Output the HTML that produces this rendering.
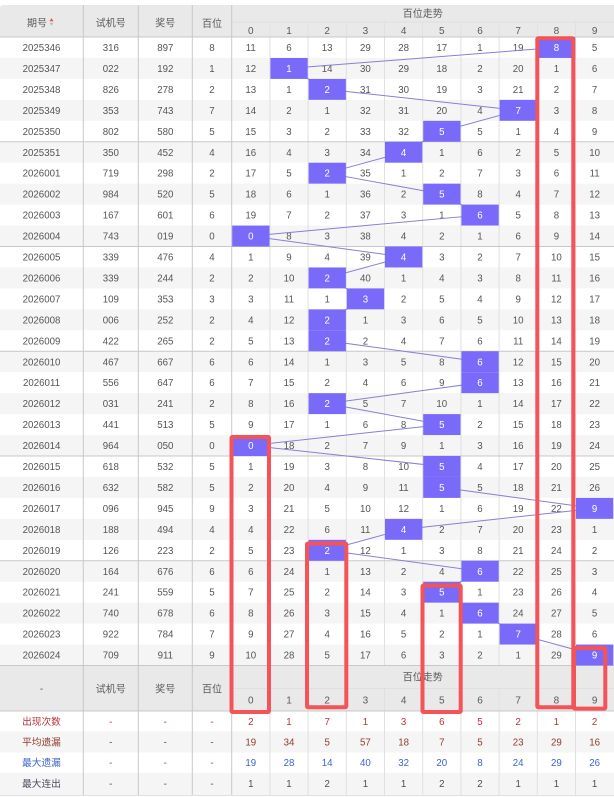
<!DOCTYPE html>
<html><head><meta charset="utf-8"><style>
html,body{margin:0;padding:0;background:#fff;}
svg{display:block;}
text{font-family:"Liberation Sans","Noto Sans CJK SC",sans-serif;font-size:9.7px;fill:#555;text-anchor:middle;}
.h text{font-size:10px;fill:#5a5a5a;}
.w{fill:#fff;}
</style></head><body>
<svg width="614" height="797" viewBox="0 0 614 797" xmlns="http://www.w3.org/2000/svg">
<!-- header bg -->
<path d="M0,8 Q0,5 3,5 L614,5 L614,37 L0,37 Z" fill="#e9e9e9"/>
<rect x="0" y="665.5" width="614" height="45.5" fill="#e9e9e9"/>
<!-- row bgs -->
<g fill="#f5f5f5">
<rect x="0" y="57.95" width="614" height="20.95"/>
<rect x="0" y="99.85" width="614" height="20.95"/>
<rect x="0" y="141.75" width="614" height="20.95"/>
<rect x="0" y="183.65" width="614" height="20.95"/>
<rect x="0" y="225.55" width="614" height="20.95"/>
<rect x="0" y="267.45" width="614" height="20.95"/>
<rect x="0" y="309.35" width="614" height="20.95"/>
<rect x="0" y="351.25" width="614" height="20.95"/>
<rect x="0" y="393.15" width="614" height="20.95"/>
<rect x="0" y="435.05" width="614" height="20.95"/>
<rect x="0" y="476.95" width="614" height="20.95"/>
<rect x="0" y="518.85" width="614" height="20.95"/>
<rect x="0" y="560.75" width="614" height="20.95"/>
<rect x="0" y="602.65" width="614" height="20.95"/>
<rect x="0" y="644.55" width="614" height="20.95"/>
<rect x="0" y="731.5" width="614" height="21"/>
<rect x="0" y="773" width="614" height="22"/>
</g>
<!-- digit column separators -->
<g stroke="#e0e0e0" stroke-width="1">
<path d="M269.9,22V665.5M308.1,22V665.5M346.3,22V665.5M384.5,22V665.5M422.7,22V665.5M460.9,22V665.5M499.1,22V665.5M537.3,22V665.5M575.5,22V665.5"/>
<path d="M269.9,688.5V795M308.1,688.5V795M346.3,688.5V795M384.5,688.5V795M422.7,688.5V795M460.9,688.5V795M499.1,688.5V795M537.3,688.5V795M575.5,688.5V795"/>
<path d="M231.7,22H614M231.7,688.5H614"/>
<path d="M0,795.5H614"/>
</g>
<!-- main column separators -->
<g stroke="#c8c8c8" stroke-width="1">
<path d="M83.3,5V795M138.3,5V795M192.3,5V795M231.7,5V795"/>
<path d="M0,37H614M0,141.75H614M0,246.5H614M0,351.25H614M0,456H614M0,560.75H614M0,665.5H614M0,711H614"/>
</g>
<!-- header text -->
<g class="h">
<text x="37" y="26.5">期号</text>
<path d="M49.5,21.3L51.5,18.3L53.5,21.3Z" fill="#e84a4a"/>
<path d="M49.5,22.7L51.5,25.7L53.5,22.7Z" fill="#bbb"/>
<text x="110.8" y="26.5">试机号</text>
<text x="165.3" y="26.5">奖号</text>
<text x="212" y="27">百位</text>
<text x="422.8" y="17">百位走势</text>
<text y="34"><tspan x="250.8">0</tspan><tspan x="289">1</tspan><tspan x="327.2">2</tspan><tspan x="365.4">3</tspan><tspan x="403.6">4</tspan><tspan x="441.8">5</tspan><tspan x="480">6</tspan><tspan x="518.2">7</tspan><tspan x="556.4">8</tspan><tspan x="594.6">9</tspan></text>
<text x="41.5" y="692">-</text>
<text x="110.8" y="692.5">试机号</text>
<text x="165.3" y="692.5">奖号</text>
<text x="212" y="692.5">百位</text>
<text x="422.8" y="680.5">百位走势</text>
<text y="703.5"><tspan x="250.8">0</tspan><tspan x="289">1</tspan><tspan x="327.2">2</tspan><tspan x="365.4">3</tspan><tspan x="403.6">4</tspan><tspan x="441.8">5</tspan><tspan x="480">6</tspan><tspan x="518.2">7</tspan><tspan x="556.4">8</tspan><tspan x="594.6">9</tspan></text>
</g>
<!-- data rows -->
<g>
<text transform="translate(0,37)" y="14"><tspan x="41.5">2025346</tspan><tspan x="110.8">316</tspan><tspan x="165.3">897</tspan><tspan x="212">8</tspan><tspan x="250.8">11</tspan><tspan x="289">6</tspan><tspan x="327.2">13</tspan><tspan x="365.4">29</tspan><tspan x="403.6">28</tspan><tspan x="441.8">17</tspan><tspan x="480">1</tspan><tspan x="518.2">19</tspan><tspan x="594.6">5</tspan></text>
<text transform="translate(0,57.95)" y="14"><tspan x="41.5">2025347</tspan><tspan x="110.8">022</tspan><tspan x="165.3">192</tspan><tspan x="212">1</tspan><tspan x="250.8">12</tspan><tspan x="327.2">14</tspan><tspan x="365.4">30</tspan><tspan x="403.6">29</tspan><tspan x="441.8">18</tspan><tspan x="480">2</tspan><tspan x="518.2">20</tspan><tspan x="556.4">1</tspan><tspan x="594.6">6</tspan></text>
<text transform="translate(0,78.9)" y="14"><tspan x="41.5">2025348</tspan><tspan x="110.8">826</tspan><tspan x="165.3">278</tspan><tspan x="212">2</tspan><tspan x="250.8">13</tspan><tspan x="289">1</tspan><tspan x="365.4">31</tspan><tspan x="403.6">30</tspan><tspan x="441.8">19</tspan><tspan x="480">3</tspan><tspan x="518.2">21</tspan><tspan x="556.4">2</tspan><tspan x="594.6">7</tspan></text>
<text transform="translate(0,99.85)" y="14"><tspan x="41.5">2025349</tspan><tspan x="110.8">353</tspan><tspan x="165.3">743</tspan><tspan x="212">7</tspan><tspan x="250.8">14</tspan><tspan x="289">2</tspan><tspan x="327.2">1</tspan><tspan x="365.4">32</tspan><tspan x="403.6">31</tspan><tspan x="441.8">20</tspan><tspan x="480">4</tspan><tspan x="556.4">3</tspan><tspan x="594.6">8</tspan></text>
<text transform="translate(0,120.8)" y="14"><tspan x="41.5">2025350</tspan><tspan x="110.8">802</tspan><tspan x="165.3">580</tspan><tspan x="212">5</tspan><tspan x="250.8">15</tspan><tspan x="289">3</tspan><tspan x="327.2">2</tspan><tspan x="365.4">33</tspan><tspan x="403.6">32</tspan><tspan x="480">5</tspan><tspan x="518.2">1</tspan><tspan x="556.4">4</tspan><tspan x="594.6">9</tspan></text>
<text transform="translate(0,141.75)" y="14"><tspan x="41.5">2025351</tspan><tspan x="110.8">350</tspan><tspan x="165.3">452</tspan><tspan x="212">4</tspan><tspan x="250.8">16</tspan><tspan x="289">4</tspan><tspan x="327.2">3</tspan><tspan x="365.4">34</tspan><tspan x="441.8">1</tspan><tspan x="480">6</tspan><tspan x="518.2">2</tspan><tspan x="556.4">5</tspan><tspan x="594.6">10</tspan></text>
<text transform="translate(0,162.7)" y="14"><tspan x="41.5">2026001</tspan><tspan x="110.8">719</tspan><tspan x="165.3">298</tspan><tspan x="212">2</tspan><tspan x="250.8">17</tspan><tspan x="289">5</tspan><tspan x="365.4">35</tspan><tspan x="403.6">1</tspan><tspan x="441.8">2</tspan><tspan x="480">7</tspan><tspan x="518.2">3</tspan><tspan x="556.4">6</tspan><tspan x="594.6">11</tspan></text>
<text transform="translate(0,183.65)" y="14"><tspan x="41.5">2026002</tspan><tspan x="110.8">984</tspan><tspan x="165.3">520</tspan><tspan x="212">5</tspan><tspan x="250.8">18</tspan><tspan x="289">6</tspan><tspan x="327.2">1</tspan><tspan x="365.4">36</tspan><tspan x="403.6">2</tspan><tspan x="480">8</tspan><tspan x="518.2">4</tspan><tspan x="556.4">7</tspan><tspan x="594.6">12</tspan></text>
<text transform="translate(0,204.6)" y="14"><tspan x="41.5">2026003</tspan><tspan x="110.8">167</tspan><tspan x="165.3">601</tspan><tspan x="212">6</tspan><tspan x="250.8">19</tspan><tspan x="289">7</tspan><tspan x="327.2">2</tspan><tspan x="365.4">37</tspan><tspan x="403.6">3</tspan><tspan x="441.8">1</tspan><tspan x="518.2">5</tspan><tspan x="556.4">8</tspan><tspan x="594.6">13</tspan></text>
<text transform="translate(0,225.55)" y="14"><tspan x="41.5">2026004</tspan><tspan x="110.8">743</tspan><tspan x="165.3">019</tspan><tspan x="212">0</tspan><tspan x="289">8</tspan><tspan x="327.2">3</tspan><tspan x="365.4">38</tspan><tspan x="403.6">4</tspan><tspan x="441.8">2</tspan><tspan x="480">1</tspan><tspan x="518.2">6</tspan><tspan x="556.4">9</tspan><tspan x="594.6">14</tspan></text>
<text transform="translate(0,246.5)" y="14"><tspan x="41.5">2026005</tspan><tspan x="110.8">339</tspan><tspan x="165.3">476</tspan><tspan x="212">4</tspan><tspan x="250.8">1</tspan><tspan x="289">9</tspan><tspan x="327.2">4</tspan><tspan x="365.4">39</tspan><tspan x="441.8">3</tspan><tspan x="480">2</tspan><tspan x="518.2">7</tspan><tspan x="556.4">10</tspan><tspan x="594.6">15</tspan></text>
<text transform="translate(0,267.45)" y="14"><tspan x="41.5">2026006</tspan><tspan x="110.8">339</tspan><tspan x="165.3">244</tspan><tspan x="212">2</tspan><tspan x="250.8">2</tspan><tspan x="289">10</tspan><tspan x="365.4">40</tspan><tspan x="403.6">1</tspan><tspan x="441.8">4</tspan><tspan x="480">3</tspan><tspan x="518.2">8</tspan><tspan x="556.4">11</tspan><tspan x="594.6">16</tspan></text>
<text transform="translate(0,288.4)" y="14"><tspan x="41.5">2026007</tspan><tspan x="110.8">109</tspan><tspan x="165.3">353</tspan><tspan x="212">3</tspan><tspan x="250.8">3</tspan><tspan x="289">11</tspan><tspan x="327.2">1</tspan><tspan x="403.6">2</tspan><tspan x="441.8">5</tspan><tspan x="480">4</tspan><tspan x="518.2">9</tspan><tspan x="556.4">12</tspan><tspan x="594.6">17</tspan></text>
<text transform="translate(0,309.35)" y="14"><tspan x="41.5">2026008</tspan><tspan x="110.8">006</tspan><tspan x="165.3">252</tspan><tspan x="212">2</tspan><tspan x="250.8">4</tspan><tspan x="289">12</tspan><tspan x="365.4">1</tspan><tspan x="403.6">3</tspan><tspan x="441.8">6</tspan><tspan x="480">5</tspan><tspan x="518.2">10</tspan><tspan x="556.4">13</tspan><tspan x="594.6">18</tspan></text>
<text transform="translate(0,330.3)" y="14"><tspan x="41.5">2026009</tspan><tspan x="110.8">422</tspan><tspan x="165.3">265</tspan><tspan x="212">2</tspan><tspan x="250.8">5</tspan><tspan x="289">13</tspan><tspan x="365.4">2</tspan><tspan x="403.6">4</tspan><tspan x="441.8">7</tspan><tspan x="480">6</tspan><tspan x="518.2">11</tspan><tspan x="556.4">14</tspan><tspan x="594.6">19</tspan></text>
<text transform="translate(0,351.25)" y="14"><tspan x="41.5">2026010</tspan><tspan x="110.8">467</tspan><tspan x="165.3">667</tspan><tspan x="212">6</tspan><tspan x="250.8">6</tspan><tspan x="289">14</tspan><tspan x="327.2">1</tspan><tspan x="365.4">3</tspan><tspan x="403.6">5</tspan><tspan x="441.8">8</tspan><tspan x="518.2">12</tspan><tspan x="556.4">15</tspan><tspan x="594.6">20</tspan></text>
<text transform="translate(0,372.2)" y="14"><tspan x="41.5">2026011</tspan><tspan x="110.8">556</tspan><tspan x="165.3">647</tspan><tspan x="212">6</tspan><tspan x="250.8">7</tspan><tspan x="289">15</tspan><tspan x="327.2">2</tspan><tspan x="365.4">4</tspan><tspan x="403.6">6</tspan><tspan x="441.8">9</tspan><tspan x="518.2">13</tspan><tspan x="556.4">16</tspan><tspan x="594.6">21</tspan></text>
<text transform="translate(0,393.15)" y="14"><tspan x="41.5">2026012</tspan><tspan x="110.8">031</tspan><tspan x="165.3">241</tspan><tspan x="212">2</tspan><tspan x="250.8">8</tspan><tspan x="289">16</tspan><tspan x="365.4">5</tspan><tspan x="403.6">7</tspan><tspan x="441.8">10</tspan><tspan x="480">1</tspan><tspan x="518.2">14</tspan><tspan x="556.4">17</tspan><tspan x="594.6">22</tspan></text>
<text transform="translate(0,414.1)" y="14"><tspan x="41.5">2026013</tspan><tspan x="110.8">441</tspan><tspan x="165.3">513</tspan><tspan x="212">5</tspan><tspan x="250.8">9</tspan><tspan x="289">17</tspan><tspan x="327.2">1</tspan><tspan x="365.4">6</tspan><tspan x="403.6">8</tspan><tspan x="480">2</tspan><tspan x="518.2">15</tspan><tspan x="556.4">18</tspan><tspan x="594.6">23</tspan></text>
<text transform="translate(0,435.05)" y="14"><tspan x="41.5">2026014</tspan><tspan x="110.8">964</tspan><tspan x="165.3">050</tspan><tspan x="212">0</tspan><tspan x="289">18</tspan><tspan x="327.2">2</tspan><tspan x="365.4">7</tspan><tspan x="403.6">9</tspan><tspan x="441.8">1</tspan><tspan x="480">3</tspan><tspan x="518.2">16</tspan><tspan x="556.4">19</tspan><tspan x="594.6">24</tspan></text>
<text transform="translate(0,456)" y="14"><tspan x="41.5">2026015</tspan><tspan x="110.8">618</tspan><tspan x="165.3">532</tspan><tspan x="212">5</tspan><tspan x="250.8">1</tspan><tspan x="289">19</tspan><tspan x="327.2">3</tspan><tspan x="365.4">8</tspan><tspan x="403.6">10</tspan><tspan x="480">4</tspan><tspan x="518.2">17</tspan><tspan x="556.4">20</tspan><tspan x="594.6">25</tspan></text>
<text transform="translate(0,476.95)" y="14"><tspan x="41.5">2026016</tspan><tspan x="110.8">632</tspan><tspan x="165.3">582</tspan><tspan x="212">5</tspan><tspan x="250.8">2</tspan><tspan x="289">20</tspan><tspan x="327.2">4</tspan><tspan x="365.4">9</tspan><tspan x="403.6">11</tspan><tspan x="480">5</tspan><tspan x="518.2">18</tspan><tspan x="556.4">21</tspan><tspan x="594.6">26</tspan></text>
<text transform="translate(0,497.9)" y="14"><tspan x="41.5">2026017</tspan><tspan x="110.8">096</tspan><tspan x="165.3">945</tspan><tspan x="212">9</tspan><tspan x="250.8">3</tspan><tspan x="289">21</tspan><tspan x="327.2">5</tspan><tspan x="365.4">10</tspan><tspan x="403.6">12</tspan><tspan x="441.8">1</tspan><tspan x="480">6</tspan><tspan x="518.2">19</tspan><tspan x="556.4">22</tspan></text>
<text transform="translate(0,518.85)" y="14"><tspan x="41.5">2026018</tspan><tspan x="110.8">188</tspan><tspan x="165.3">494</tspan><tspan x="212">4</tspan><tspan x="250.8">4</tspan><tspan x="289">22</tspan><tspan x="327.2">6</tspan><tspan x="365.4">11</tspan><tspan x="441.8">2</tspan><tspan x="480">7</tspan><tspan x="518.2">20</tspan><tspan x="556.4">23</tspan><tspan x="594.6">1</tspan></text>
<text transform="translate(0,539.8)" y="14"><tspan x="41.5">2026019</tspan><tspan x="110.8">126</tspan><tspan x="165.3">223</tspan><tspan x="212">2</tspan><tspan x="250.8">5</tspan><tspan x="289">23</tspan><tspan x="365.4">12</tspan><tspan x="403.6">1</tspan><tspan x="441.8">3</tspan><tspan x="480">8</tspan><tspan x="518.2">21</tspan><tspan x="556.4">24</tspan><tspan x="594.6">2</tspan></text>
<text transform="translate(0,560.75)" y="14"><tspan x="41.5">2026020</tspan><tspan x="110.8">164</tspan><tspan x="165.3">676</tspan><tspan x="212">6</tspan><tspan x="250.8">6</tspan><tspan x="289">24</tspan><tspan x="327.2">1</tspan><tspan x="365.4">13</tspan><tspan x="403.6">2</tspan><tspan x="441.8">4</tspan><tspan x="518.2">22</tspan><tspan x="556.4">25</tspan><tspan x="594.6">3</tspan></text>
<text transform="translate(0,581.7)" y="14"><tspan x="41.5">2026021</tspan><tspan x="110.8">241</tspan><tspan x="165.3">559</tspan><tspan x="212">5</tspan><tspan x="250.8">7</tspan><tspan x="289">25</tspan><tspan x="327.2">2</tspan><tspan x="365.4">14</tspan><tspan x="403.6">3</tspan><tspan x="480">1</tspan><tspan x="518.2">23</tspan><tspan x="556.4">26</tspan><tspan x="594.6">4</tspan></text>
<text transform="translate(0,602.65)" y="14"><tspan x="41.5">2026022</tspan><tspan x="110.8">740</tspan><tspan x="165.3">678</tspan><tspan x="212">6</tspan><tspan x="250.8">8</tspan><tspan x="289">26</tspan><tspan x="327.2">3</tspan><tspan x="365.4">15</tspan><tspan x="403.6">4</tspan><tspan x="441.8">1</tspan><tspan x="518.2">24</tspan><tspan x="556.4">27</tspan><tspan x="594.6">5</tspan></text>
<text transform="translate(0,623.6)" y="14"><tspan x="41.5">2026023</tspan><tspan x="110.8">922</tspan><tspan x="165.3">784</tspan><tspan x="212">7</tspan><tspan x="250.8">9</tspan><tspan x="289">27</tspan><tspan x="327.2">4</tspan><tspan x="365.4">16</tspan><tspan x="403.6">5</tspan><tspan x="441.8">2</tspan><tspan x="480">1</tspan><tspan x="556.4">28</tspan><tspan x="594.6">6</tspan></text>
<text transform="translate(0,644.55)" y="14"><tspan x="41.5">2026024</tspan><tspan x="110.8">709</tspan><tspan x="165.3">911</tspan><tspan x="212">9</tspan><tspan x="250.8">10</tspan><tspan x="289">28</tspan><tspan x="327.2">5</tspan><tspan x="365.4">17</tspan><tspan x="403.6">6</tspan><tspan x="441.8">3</tspan><tspan x="480">2</tspan><tspan x="518.2">1</tspan><tspan x="556.4">29</tspan></text>
</g>
<!-- trend line -->
<polyline fill="none" stroke="#8680d4" stroke-width="1" points="556.4,47.48 289,68.43 327.2,89.38 518.2,110.33 441.8,131.28 403.6,152.23 327.2,173.18 441.8,194.13 480,215.08 250.8,236.03 403.6,256.98 327.2,277.93 365.4,298.88 327.2,319.83 327.2,340.78 480,361.73 480,382.68 327.2,403.63 441.8,424.58 250.8,445.53 441.8,466.48 441.8,487.43 594.6,508.38 403.6,529.33 327.2,550.28 480,571.23 441.8,592.18 480,613.13 518.2,634.08 594.6,655.03"/>
<!-- highlights -->
<g fill="#7a6afa">
<rect x="537.8" y="37" width="37.3" height="20.95"/>
<rect x="270.4" y="57.95" width="37.3" height="20.95"/>
<rect x="308.6" y="78.9" width="37.3" height="20.95"/>
<rect x="499.6" y="99.85" width="37.3" height="20.95"/>
<rect x="423.2" y="120.8" width="37.3" height="20.95"/>
<rect x="385" y="141.75" width="37.3" height="20.95"/>
<rect x="308.6" y="162.7" width="37.3" height="20.95"/>
<rect x="423.2" y="183.65" width="37.3" height="20.95"/>
<rect x="461.4" y="204.6" width="37.3" height="20.95"/>
<rect x="232.2" y="225.55" width="37.3" height="20.95"/>
<rect x="385" y="246.5" width="37.3" height="20.95"/>
<rect x="308.6" y="267.45" width="37.3" height="20.95"/>
<rect x="346.8" y="288.4" width="37.3" height="20.95"/>
<rect x="308.6" y="309.35" width="37.3" height="20.95"/>
<rect x="308.6" y="330.3" width="37.3" height="20.95"/>
<rect x="461.4" y="351.25" width="37.3" height="20.95"/>
<rect x="461.4" y="372.2" width="37.3" height="20.95"/>
<rect x="308.6" y="393.15" width="37.3" height="20.95"/>
<rect x="423.2" y="414.1" width="37.3" height="20.95"/>
<rect x="232.2" y="435.05" width="37.3" height="20.95"/>
<rect x="423.2" y="456" width="37.3" height="20.95"/>
<rect x="423.2" y="476.95" width="37.3" height="20.95"/>
<rect x="576" y="497.9" width="37.3" height="20.95"/>
<rect x="385" y="518.85" width="37.3" height="20.95"/>
<rect x="308.6" y="539.8" width="37.3" height="20.95"/>
<rect x="461.4" y="560.75" width="37.3" height="20.95"/>
<rect x="423.2" y="581.7" width="37.3" height="20.95"/>
<rect x="461.4" y="602.65" width="37.3" height="20.95"/>
<rect x="499.6" y="623.6" width="37.3" height="20.95"/>
<rect x="576" y="644.55" width="37.3" height="20.95"/>
</g>
<g>
<text class="w" x="556.4" y="51">8</text>
<text class="w" x="289" y="71.95">1</text>
<text class="w" x="327.2" y="92.9">2</text>
<text class="w" x="518.2" y="113.85">7</text>
<text class="w" x="441.8" y="134.8">5</text>
<text class="w" x="403.6" y="155.75">4</text>
<text class="w" x="327.2" y="176.7">2</text>
<text class="w" x="441.8" y="197.65">5</text>
<text class="w" x="480" y="218.6">6</text>
<text class="w" x="250.8" y="239.55">0</text>
<text class="w" x="403.6" y="260.5">4</text>
<text class="w" x="327.2" y="281.45">2</text>
<text class="w" x="365.4" y="302.4">3</text>
<text class="w" x="327.2" y="323.35">2</text>
<text class="w" x="327.2" y="344.3">2</text>
<text class="w" x="480" y="365.25">6</text>
<text class="w" x="480" y="386.2">6</text>
<text class="w" x="327.2" y="407.15">2</text>
<text class="w" x="441.8" y="428.1">5</text>
<text class="w" x="250.8" y="449.05">0</text>
<text class="w" x="441.8" y="470">5</text>
<text class="w" x="441.8" y="490.95">5</text>
<text class="w" x="594.6" y="511.9">9</text>
<text class="w" x="403.6" y="532.85">4</text>
<text class="w" x="327.2" y="553.8">2</text>
<text class="w" x="480" y="574.75">6</text>
<text class="w" x="441.8" y="595.7">5</text>
<text class="w" x="480" y="616.65">6</text>
<text class="w" x="518.2" y="637.6">7</text>
<text class="w" x="594.6" y="658.55">9</text>
</g>
<!-- footer rows -->
<g>
<text y="725" style="fill:#b8323c"><tspan x="41.5">出现次数</tspan><tspan x="110.8">-</tspan><tspan x="165.3">-</tspan><tspan x="212">-</tspan><tspan x="250.8">2</tspan><tspan x="289">1</tspan><tspan x="327.2">7</tspan><tspan x="365.4">1</tspan><tspan x="403.6">3</tspan><tspan x="441.8">6</tspan><tspan x="480">5</tspan><tspan x="518.2">2</tspan><tspan x="556.4">1</tspan><tspan x="594.6">2</tspan></text>
<text y="745.5" style="fill:#8e3d30"><tspan x="41.5">平均遗漏</tspan><tspan x="110.8">-</tspan><tspan x="165.3">-</tspan><tspan x="212">-</tspan><tspan x="250.8">19</tspan><tspan x="289">34</tspan><tspan x="327.2">5</tspan><tspan x="365.4">57</tspan><tspan x="403.6">18</tspan><tspan x="441.8">7</tspan><tspan x="480">5</tspan><tspan x="518.2">23</tspan><tspan x="556.4">29</tspan><tspan x="594.6">16</tspan></text>
<text y="766" style="fill:#3f63d0"><tspan x="41.5">最大遗漏</tspan><tspan x="110.8">-</tspan><tspan x="165.3">-</tspan><tspan x="212">-</tspan><tspan x="250.8">19</tspan><tspan x="289">28</tspan><tspan x="327.2">14</tspan><tspan x="365.4">40</tspan><tspan x="403.6">32</tspan><tspan x="441.8">20</tspan><tspan x="480">8</tspan><tspan x="518.2">24</tspan><tspan x="556.4">29</tspan><tspan x="594.6">26</tspan></text>
<text y="787" style="fill:#4a4d5e"><tspan x="41.5">最大连出</tspan><tspan x="110.8">-</tspan><tspan x="165.3">-</tspan><tspan x="212">-</tspan><tspan x="250.8">1</tspan><tspan x="289">1</tspan><tspan x="327.2">2</tspan><tspan x="365.4">1</tspan><tspan x="403.6">1</tspan><tspan x="441.8">2</tspan><tspan x="480">2</tspan><tspan x="518.2">1</tspan><tspan x="556.4">1</tspan><tspan x="594.6">1</tspan></text>
</g>
<!-- red boxes -->
<g fill="none" stroke="#f45357" stroke-width="4">
<rect x="537.3" y="38.3" width="36" height="669" rx="1"/>
<rect x="231.5" y="437" width="37.5" height="275" rx="1"/>
<rect x="307" y="543.5" width="39.3" height="163.8" rx="1"/>
<rect x="422.5" y="585.5" width="38.2" height="126.5" rx="1"/>
<rect x="574" y="648" width="31.3" height="60.6" rx="1"/>
</g>
</svg>
</body></html>
